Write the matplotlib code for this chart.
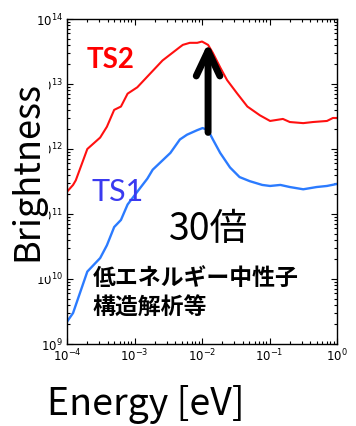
import numpy as np
import matplotlib
matplotlib.use("Agg")
import matplotlib.pyplot as plt
from matplotlib.patches import Rectangle
from matplotlib.ticker import LogLocator, FixedLocator

plt.rcParams['font.family'] = ['Noto Sans CJK JP', 'DejaVu Sans']

# energies [eV] and brightness
ts2_energy = [1.0e-4, 1.23e-4, 1.35e-4, 2.0e-4, 3.1e-4, 3.9e-4, 5.0e-4, 6.3e-4,
              7.9e-4, 1.1e-3, 1.55e-3, 2.6e-3, 4.7e-3, 5.2e-3, 6.6e-3, 8.5e-3,
              1.0e-2, 1.23e-2, 1.45e-2, 1.86e-2, 2.35e-2, 3.3e-2, 4.7e-2,
              7.2e-2, 0.102, 0.158, 0.2, 0.316, 0.44, 0.71, 0.87, 1.0]
ts2_bright = [2.2e11, 2.8e11, 3.3e11, 1.0e12, 1.5e12, 2.2e12, 4.0e12, 4.5e12,
              7.1e12, 8.9e12, 1.3e13, 2.3e13, 3.7e13, 4.0e13, 4.3e13, 4.3e13,
              4.5e13, 4.0e13, 3.0e13, 1.8e13, 1.15e13, 7.2e12, 4.5e12,
              3.3e12, 2.7e12, 2.9e12, 2.6e12, 2.5e12, 2.6e12, 2.7e12, 3.0e12, 3.0e12]

ts1_energy = [1.0e-4, 1.23e-4, 2.0e-4, 3.1e-4, 3.9e-4, 5.0e-4, 6.3e-4, 7.9e-4,
              1.1e-3, 1.55e-3, 1.86e-3, 3.4e-3, 4.7e-3, 6.0e-3, 8.5e-3, 1.02e-2,
              1.23e-2, 1.45e-2, 1.86e-2, 2.6e-2, 3.6e-2, 5.1e-2, 7.8e-2, 0.102,
              0.145, 0.2, 0.316, 0.5, 0.71, 1.0]
ts1_bright = [2.2e9, 3.0e9, 1.3e10, 2.1e10, 3.3e10, 6.3e10, 8.1e10, 1.4e11,
              2.2e11, 3.5e11, 4.8e11, 8.7e11, 1.4e12, 1.66e12, 1.95e12, 2.1e12,
              1.95e12, 1.4e12, 8.7e11, 5.2e11, 3.7e11, 3.2e11, 2.8e11, 2.7e11,
              2.8e11, 2.6e11, 2.4e11, 2.6e11, 2.7e11, 2.9e11]

x_ticks = [1e-4, 1e-3, 1e-2, 1e-1, 1e0]
x_tick_labels = [r'$10^{-4}$', r'$10^{-3}$', r'$10^{-2}$', r'$10^{-1}$', r'$10^{0}$']
y_ticks = [1e9, 1e10, 1e11, 1e12, 1e13, 1e14]
y_tick_labels = [r'$10^{9}$', r'$10^{10}$', r'$10^{11}$', r'$10^{12}$', r'$10^{13}$', r'$10^{14}$']

fig = plt.figure(figsize=(3.56, 4.26), dpi=100)
ax = fig.add_axes([67 / 356, 82 / 426, 270 / 356, 325 / 426])

ax.plot(ts2_energy, ts2_bright, color='#ff1010', lw=1.5)
ax.plot(ts1_energy, ts1_bright, color='#2b7bff', lw=1.7)

ax.set_xscale('log')
ax.set_yscale('log')
ax.set_xlim(1e-4, 1)
ax.set_ylim(1e9, 1e14)

ax.xaxis.set_major_locator(FixedLocator(x_ticks))
ax.yaxis.set_major_locator(FixedLocator(y_ticks))
ax.xaxis.set_minor_locator(LogLocator(base=10, subs=np.arange(2, 10), numticks=20))
ax.yaxis.set_minor_locator(LogLocator(base=10, subs=np.arange(2, 10), numticks=20))
ax.set_xticklabels(x_tick_labels)
ax.set_yticklabels(y_tick_labels)

ax.tick_params(which='both', direction='in', top=True, right=True, width=0.8,
               labelsize=8.5, colors='black')
ax.tick_params(which='major', length=4.5, pad=3)
ax.tick_params(which='minor', length=2.3)
for s in ax.spines.values():
    s.set_linewidth(1.0)

# arrow: 30x gain at the peak
ax.annotate('', xy=(0.0123, 4.3e13), xytext=(0.0123, 1.8e12),
            arrowprops=dict(arrowstyle='->,head_length=1.8,head_width=0.85',
                            lw=5, color='black', shrinkA=0, shrinkB=0,
                            mutation_scale=10))

ax.text(0.163, 0.874, 'TS2', transform=ax.transAxes, color='#ff0000',
        fontsize=20, fontweight='bold', family='Lato', ha='center', va='center')
ax.text(0.187, 0.468, 'TS1', transform=ax.transAxes, color='#3a3af0',
        fontsize=22, family='Lato', ha='center', va='center')
ax.text(0.526, 0.351, '30倍', transform=ax.transAxes, fontsize=27,
        ha='center', va='center')
ax.text(0.096, 0.203, '低エネルギー中性子', transform=ax.transAxes, fontsize=16.5,
        fontweight='bold', ha='left', va='center')
ax.text(0.096, 0.111, '構造解析等', transform=ax.transAxes, fontsize=16.5,
        fontweight='bold', ha='left', va='center')

# white strip behind the y title, hiding the "10" of the middle tick labels
fig.patches.append(Rectangle((0, (426 - 277) / 426), 49 / 356, 212 / 426,
                             transform=fig.transFigure, facecolor='white',
                             edgecolor='none', zorder=1))
fig.text(27 / 356, 1 - 171 / 426, 'Brightness', rotation=90, fontsize=26,
         ha='center', va='center', zorder=3)
fig.text(146 / 356, 1 - 404 / 426, 'Energy [eV]', fontsize=27,
         ha='center', va='center')

fig.savefig('out.png', dpi=100)
